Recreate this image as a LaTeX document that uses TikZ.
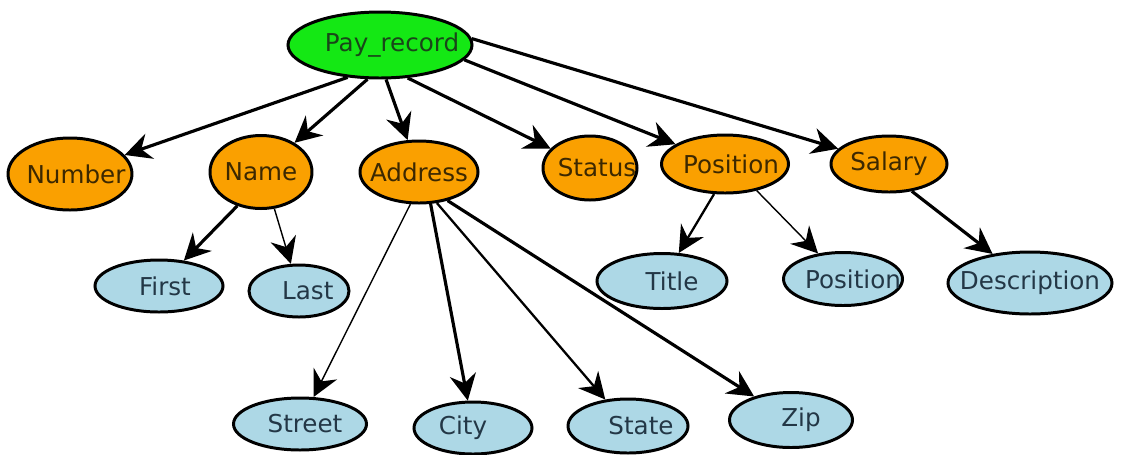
\documentclass[tikz,border=0pt]{standalone}
\usepackage{fontspec}
\setmainfont{DejaVu Sans}
\usetikzlibrary{shapes.geometric,arrows.meta}
\definecolor{rootgreen}{RGB}{20,232,20}
\definecolor{midorange}{RGB}{250,160,0}
\definecolor{leafblue}{RGB}{173,216,230}
\definecolor{roottext}{RGB}{25,70,25}
\definecolor{midtext}{RGB}{60,40,0}
\definecolor{leaftext}{RGB}{35,55,70}
\newcommand\tx[2]{\makebox[0pt]{\hspace*{#1}#2}}
\tikzset{
  base/.style={ellipse, draw=black, line width=1.7pt, inner sep=0pt,
    font=\fontsize{14}{17}\selectfont},
  sz/.style 2 args={minimum width=#1*0.02cm, minimum height=#2*0.02cm},
  rootnode/.style={base, fill=rootgreen, text=roottext},
  midnode/.style={base, fill=midorange, text=midtext},
  leafnode/.style={base, fill=leafblue, text=leaftext},
  tip/.style={-{Stealth[length=15pt,width=15pt,inset=5pt]}},
  arr/.style={tip, line width=1.8pt},
  arrmid/.style={tip, line width=1.3pt},
  arrthin/.style={tip, line width=0.8pt},
}
\begin{document}
\begin{tikzpicture}[x=0.02cm,y=-0.02cm]
\useasboundingbox (0,0) rectangle (1127,454);
% root
\node[rootnode, sz={184}{66}] (P) at (380,45) {\tx{13.7pt}{Pay\_record}};
% middle level
\node[midnode, sz={124}{72}] (Num) at (70,174) {\tx{6.8pt}{Number}};
\node[midnode, sz={102}{73}] (Nam) at (261,172) {\tx{0pt}{Name}};
\node[midnode, sz={118}{62}] (Adr) at (419,172) {\tx{0pt}{Address}};
\node[midnode, sz={94}{64}] (Sta) at (590,168) {\tx{8pt}{Status}};
\node[midnode, sz={127}{58}] (Pos) at (725,164) {\tx{6.8pt}{Position}};
\node[midnode, sz={116}{56}] (Sal) at (889,164) {\tx{0pt}{Salary}};
% leaves
\node[leafnode, sz={128}{52}] (Fir) at (159,286) {\tx{6.8pt}{First}};
\node[leafnode, sz={100}{52}] (Las) at (299,291) {\tx{10pt}{Last}};
\node[leafnode, sz={130}{55}] (Tit) at (662,281) {\tx{11.4pt}{Title}};
\node[leafnode, sz={119}{53}] (PoL) at (843,279) {\tx{11.4pt}{Position}};
\node[leafnode, sz={164}{62}] (Des) at (1030,283) {\tx{0pt}{Description}};
\node[leafnode, sz={133}{52}] (Str) at (300,424) {\tx{5.7pt}{Street}};
\node[leafnode, sz={118}{52}] (Cit) at (473,428) {\tx{-11.4pt}{City}};
\node[leafnode, sz={120}{54}] (Stt) at (628,426) {\tx{14.8pt}{State}};
\node[leafnode, sz={123}{55}] (Zip) at (791,420) {\tx{11.4pt}{Zip}};
% connectors
\draw[arr] (P.-135) -- (Num);
\draw[arr] (P.-110) -- (Nam);
\draw[arr] (P.-80) -- (Adr);
\draw[arr] (P.-50) -- (Sta);
\draw[arr] (P.-10) -- (Pos);
\draw[arr] (P.4) -- (Sal);
\draw[arr] (Nam.-125) -- (Fir);
\draw[arrthin] (Nam.-70) -- (Las);
\draw[arrthin] (Adr.-105) -- (Str);
\draw[arr] (Adr.-70) -- (Cit);
\draw[arrmid] (Adr.-60) -- (Stt);
\draw[arr] (Adr.-45) -- (Zip);
\draw[arrmid] (Pos.-110) -- (Tit);
\draw[arrthin] (Pos.-40) -- (PoL);
\draw[arr] (Sal.-50) -- (Des);
\end{tikzpicture}
\end{document}
